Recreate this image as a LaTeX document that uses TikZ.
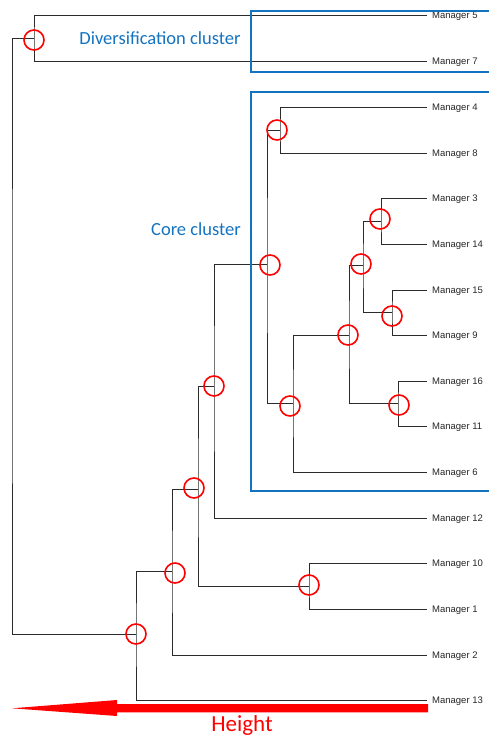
\documentclass[tikz,border=0pt]{standalone}
\usepackage{fontspec}
\newfontfamily\calfont{Carlito}
\newfontfamily\arialfont{Liberation Sans}
\definecolor{clblue}{HTML}{1473C0}
\definecolor{linegray}{HTML}{2B2B2B}
\begin{document}
\begin{tikzpicture}[x=1pt,y=-1pt,
  leaf/.style={anchor=west,inner xsep=5pt,inner ysep=0pt,text height=7.6pt,text depth=0pt,font=\arialfont\fontsize{9.5}{10}\selectfont,text=black!85},
  link/.style={draw=linegray,line width=0.8pt},
  ring/.style={circle,draw=red,line width=1.6pt,minimum size=20pt,inner sep=0pt},
  cluster/.style={draw=clblue,line width=2.2pt},
  clabel/.style={font=\calfont\fontsize{18.5}{20}\selectfont,text=clblue}]
\useasboundingbox (0,0) rectangle (488,737);
% leaves
\node[leaf] (m5) at (427,15) {Manager 5};
\node[leaf] (m7) at (427,61) {Manager 7};
\node[leaf] (m4) at (427,107) {Manager 4};
\node[leaf] (m8) at (427,153) {Manager 8};
\node[leaf] (m3) at (427,198) {Manager 3};
\node[leaf] (m14) at (427,244) {Manager 14};
\node[leaf] (m15) at (427,290) {Manager 15};
\node[leaf] (m9) at (427,335) {Manager 9};
\node[leaf] (m16) at (427,381) {Manager 16};
\node[leaf] (m11) at (427,426) {Manager 11};
\node[leaf] (m6) at (427,472) {Manager 6};
\node[leaf] (m12) at (427,518) {Manager 12};
\node[leaf] (m10) at (427,563) {Manager 10};
\node[leaf] (m1) at (427,609) {Manager 1};
\node[leaf] (m2) at (427,655) {Manager 2};
\node[leaf] (m13) at (427,700) {Manager 13};
% internal junctions
\coordinate (n57) at (34,38);
\coordinate (r) at (12,336);
\coordinate (nA) at (136,634);
\coordinate (nB) at (172,571);
\coordinate (nC) at (198,489);
\coordinate (n101) at (309,586);
\coordinate (nD) at (214,386);
\coordinate (nE) at (267,264);
\coordinate (n48) at (280,130);
\coordinate (nF) at (293,403);
\coordinate (nG) at (349,335);
\coordinate (nH) at (363,265);
\coordinate (n314) at (381,221);
\coordinate (n159) at (392,312);
\coordinate (n1611) at (398,403);
% links
\draw[link] (m5.west) -| (n57) |- (m7.west);
\draw[link] (n57) -| (r) |- (nA);
\draw[link] (nB) -| (nA) |- (m13.west);
\draw[link] (nC) -| (nB) |- (m2.west);
\draw[link] (nD) -| (nC) |- (n101);
\draw[link] (m10.west) -| (n101) |- (m1.west);
\draw[link] (nE) -| (nD) |- (m12.west);
\draw[link] (n48) -| (nE) |- (nF);
\draw[link] (m4.west) -| (n48) |- (m8.west);
\draw[link] (nG) -| (nF) |- (m6.west);
\draw[link] (nH) -| (nG) |- (n1611);
\draw[link] (n314) -| (nH) |- (n159);
\draw[link] (m3.west) -| (n314) |- (m14.west);
\draw[link] (m15.west) -| (n159) |- (m9.west);
\draw[link] (m16.west) -| (n1611) |- (m11.west);
% rings
\node[ring] (c57) at (34,40) {};
\node[ring] (cA) at (136,634) {};
\node[ring] (cB) at (175,573) {};
\node[ring] (cC) at (194,488) {};
\node[ring] (c101) at (309,585) {};
\node[ring] (cD) at (214,386) {};
\node[ring] (cE) at (270,265) {};
\node[ring] (c48) at (277,130) {};
\node[ring] (cF) at (290,406) {};
\node[ring] (cG) at (348,335) {};
\node[ring] (cH) at (361,264) {};
\node[ring] (c314) at (380,219) {};
\node[ring] (c159) at (392,316) {};
\node[ring] (c1611) at (399,405) {};
% clusters
\draw[cluster] (492,11) -- (251,11) -- (251,72) -- (492,72);
\draw[cluster] (492,92) -- (251,92) -- (251,491) -- (492,491);
\node[clabel] (tdiv) at (160,38) {Diversification cluster};
\node[clabel] (tcore) at (196,229) {Core cluster};
% height arrow
\fill[red] (428,704) -- (117,704) -- (117,700) -- (12,708.3) -- (117,716) -- (117,712.3) -- (428,712.3) -- cycle;
\node[font=\calfont\fontsize{23}{25}\selectfont,text=red] (height) at (242,725) {Height};
\end{tikzpicture}
\end{document}
